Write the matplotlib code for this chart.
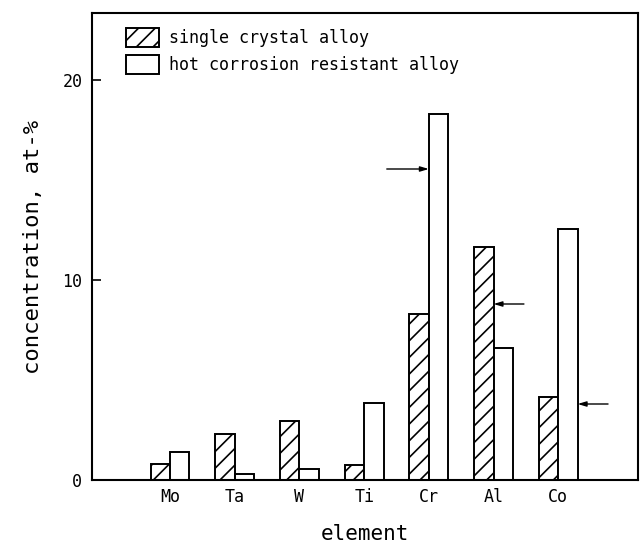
import matplotlib
matplotlib.use("Agg")
import matplotlib.pyplot as plt
from matplotlib.patches import Patch
import numpy as np

# Alloy compositions (at-%) per element
elements = ["Mo", "Ta", "W", "Ti", "Cr", "Al", "Co"]
single_crystal = [0.8, 2.3, 2.95, 0.75, 8.3, 11.65, 4.15]
hot_corrosion = [1.4, 0.3, 0.55, 3.85, 18.3, 6.6, 12.55]

# Arrow markers: (tail x, head x, y) in data units
arrow_specs = [(3.35, 4.0, 15.55), (5.47, 5.0, 8.8), (6.77, 6.3, 3.8)]

plt.rcParams["font.family"] = ["DejaVu Sans Mono"]
plt.rcParams["hatch.linewidth"] = 1.2

fig = plt.figure(figsize=(6.4, 5.48), dpi=100)
ax = fig.add_axes([92 / 640, 68 / 548, 546 / 640, 467 / 548])

x = np.arange(len(elements))
w = 0.3
ax.bar(x - w / 2, single_crystal, width=w, facecolor="white", edgecolor="black",
       hatch="//", linewidth=1.4)
ax.bar(x + w / 2, hot_corrosion, width=w, facecolor="white", edgecolor="black",
       linewidth=1.4)

for x0, x1, y in arrow_specs:
    ax.annotate("", xy=(x1, y), xytext=(x0, y),
                arrowprops=dict(arrowstyle="-|>,head_length=0.5,head_width=0.15",
                                color="black", lw=1.0, shrinkA=0, shrinkB=0))

ax.set_xlim(-1.206, 7.233)
ax.set_ylim(0, 23.35)
ax.set_xticks(x)
ax.set_xticklabels(elements, fontsize=12)
ax.set_yticks([0, 10, 20])
ax.set_yticklabels(["0", "10", "20"], fontsize=12)
ax.tick_params(axis="x", length=0, pad=6)
ax.tick_params(axis="y", direction="in", length=6.5, width=1.2, pad=7)
for s in ax.spines.values():
    s.set_linewidth(1.5)

ax.set_xlabel("element", fontsize=15, labelpad=13)
ax.set_ylabel("concentration, at-%", fontsize=16, labelpad=14)

handles = [Patch(facecolor="white", edgecolor="black", hatch="//", linewidth=1.4),
           Patch(facecolor="white", edgecolor="black", linewidth=1.4)]
ax.legend(handles, ["single crystal alloy", "hot corrosion resistant alloy"],
          loc="upper left", bbox_to_anchor=(126 / 640, 1 - 28 / 548),
          bbox_transform=fig.transFigure, frameon=False, fontsize=12,
          handlelength=2.0, handleheight=1.4, handletextpad=0.6,
          labelspacing=0.45, borderpad=0, borderaxespad=0)

fig.savefig("out.png", dpi=100)
